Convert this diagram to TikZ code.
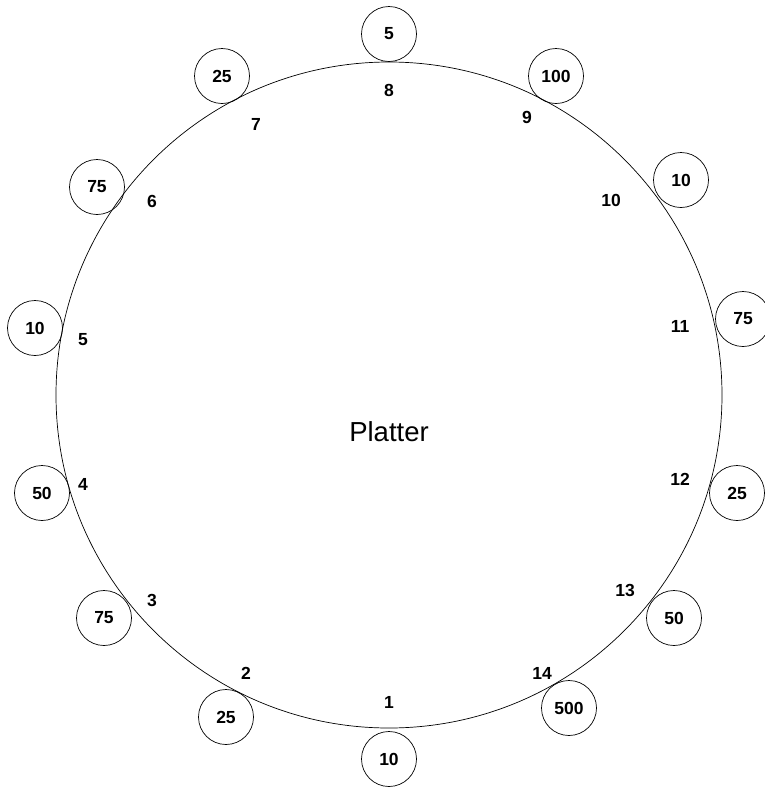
\documentclass[tikz,border=0pt]{standalone}
\usepackage{fontspec}
\setmainfont{Liberation Sans}
\begin{document}
\begin{tikzpicture}[x=1pt,y=-1pt,
  chip/.style={circle,draw,line width=0.7pt,minimum size=55pt,inner sep=0pt,font=\fontsize{17.5}{19}\selectfont\bfseries},
  slot/.style={inner sep=0pt,font=\fontsize{17.5}{19}\selectfont\bfseries},
  plate/.style={circle,draw,line width=0.7pt,minimum size=666pt,inner sep=0pt}]
\useasboundingbox (0,0) rectangle (764,788);
\node[plate] (platter) at (389,395) {};
\node[font=\fontsize{27.5}{30}\selectfont] (ptext) at (389,432) {Platter};
% chips
\node[chip] (c8) at (389,34) {5};
\node[chip] (c7) at (222,76) {25};
\node[chip] (c6) at (97,187) {75};
\node[chip] (c5) at (35,328) {10};
\node[chip] (c4) at (42,493) {50};
\node[chip] (c3) at (104,618) {75};
\node[chip] (c2) at (226,717) {25};
\node[chip] (c1) at (389,759) {10};
\node[chip] (c14) at (569,708) {500};
\node[chip] (c13) at (674,618) {50};
\node[chip] (c12) at (737,493) {25};
\node[chip] (c11) at (743,319) {75};
\node[chip] (c10) at (681,180) {10};
\node[chip] (c9) at (556,76) {100};
% slot numbers
\node[slot] (s8) at (389,90) {8};
\node[slot] (s7) at (256,124) {7};
\node[slot] (s6) at (152,201) {6};
\node[slot] (s5) at (83,340) {5};
\node[slot] (s4) at (83,484) {4};
\node[slot] (s3) at (152,600) {3};
\node[slot] (s2) at (246,673) {2};
\node[slot] (s1) at (389,702) {1};
\node[slot] (s14) at (542,673) {14};
\node[slot] (s13) at (625,590) {13};
\node[slot] (s12) at (680,479) {12};
\node[slot] (s11) at (680,326) {11};
\node[slot] (s10) at (611,200) {10};
\node[slot] (s9) at (527,117) {9};
\end{tikzpicture}
\end{document}
